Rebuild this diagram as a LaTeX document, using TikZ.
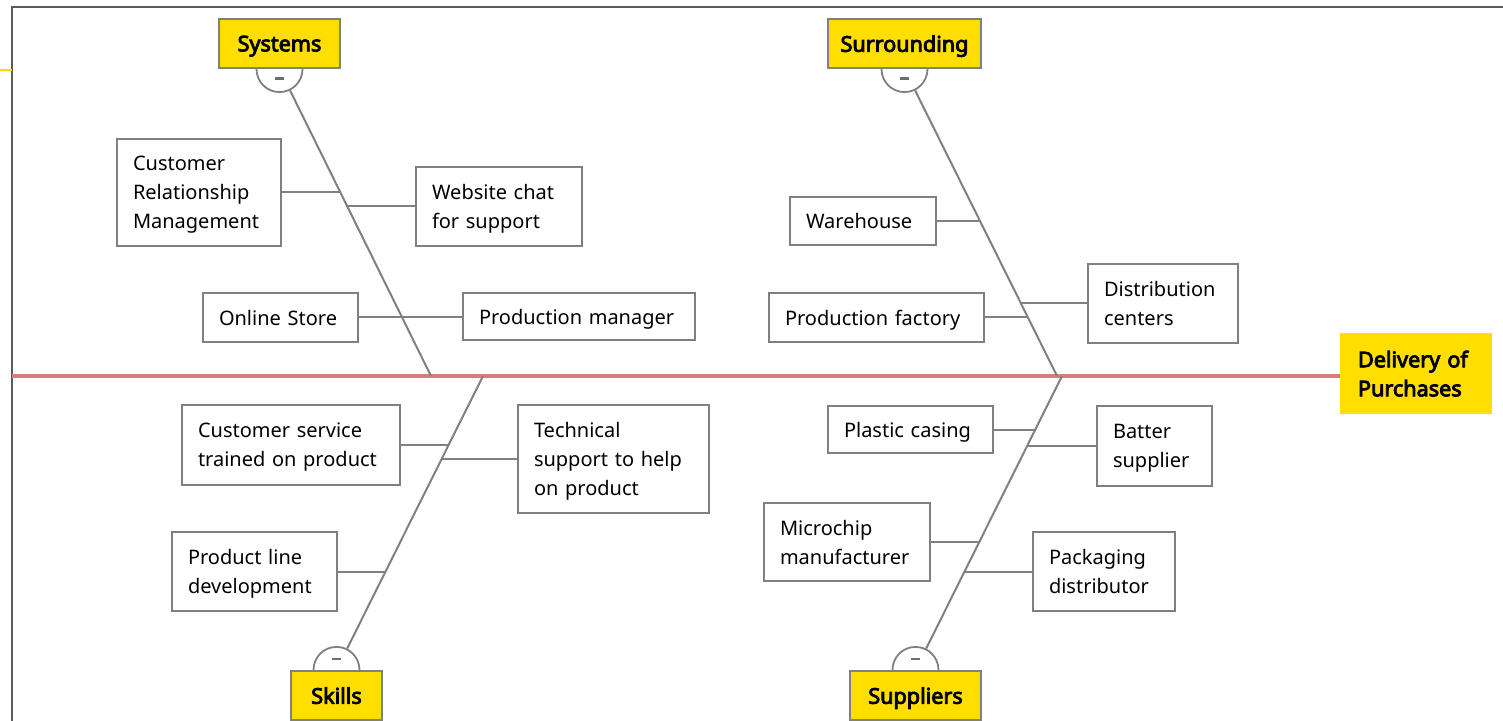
\documentclass[tikz,border=0pt]{standalone}
\usepackage{fontspec}
\setmainfont{Noto Sans}
\newfontfamily\catfont{Noto Sans}[FakeBold=4]
\usetikzlibrary{calc}
\definecolor{catyellow}{RGB}{255,222,0}
\definecolor{boxgray}{RGB}{128,128,128}
\definecolor{spinered}{RGB}{216,124,124}
\definecolor{framegray}{RGB}{90,90,90}
\definecolor{stubyellow}{RGB}{255,215,0}
\begin{document}
\begin{tikzpicture}[x=0.5pt,y=-0.5pt,
  item/.style={draw=boxgray,line width=1pt,fill=white,align=left,inner xsep=8pt,inner ysep=0pt,
    text depth=0pt,font=\fontsize{10}{14.5}\selectfont,text=black},
  twolines/.style={text depth=14.5pt},
  threelines/.style={text depth=29pt},
  cat/.style={draw=boxgray,line width=1.1pt,fill=catyellow,inner sep=0pt,text depth=0pt,
    font=\catfont\fontsize{10.8}{14.5}\selectfont,minimum height=24.5pt},
  effectbox/.style={fill=catyellow,align=left,inner xsep=9pt,inner ysep=0pt,text width=58pt,
    text depth=14.5pt,minimum height=40.5pt,font=\catfont\fontsize{10.8}{14.5}\selectfont},
  knob/.style={circle,draw=boxgray,line width=0.9pt,fill=white,minimum size=23pt,inner sep=0pt},
  bone/.style={draw=boxgray,line width=1pt},
  link/.style={draw=boxgray,line width=1pt},
  minus/.style={draw=boxgray!85!black,line width=1.3pt},
]
\useasboundingbox (0,0) rectangle (1503,721);
% frame
\coordinate (ftl) at (12,7);
\coordinate (ftr) at (1503,7);
\coordinate (fbl) at (12,721);
\draw[framegray,line width=1.1pt] (fbl) -- (ftl) -- (ftr);
\coordinate (stubl) at (0,70);
\draw[stubyellow,line width=1.2pt] (stubl) -- (stubl -| ftl);

% effect
\node[effectbox] (eff) at (1416,373.5) {Delivery of\\Purchases};
\coordinate (sp0) at (12,376);
\draw[spinered,line width=1.6pt] (sp0) -- (sp0 -| eff.west);

% spine points
\coordinate (S2) at (431,376);
\coordinate (U2) at (1057,376);
\coordinate (K1) at (483,376);
\coordinate (P1) at (1062,376);

% category boxes and knobs
\node[cat,minimum width=60.5pt] (sys) at (279.5,43.5) {Systems};
\node[cat,minimum width=76.5pt] (sur) at (904.5,43.5) {Surrounding};
\node[cat,minimum width=45.5pt] (ski) at (336.5,695.5) {Skills};
\node[cat,minimum width=65.5pt] (sup) at (915.5,695.5) {Suppliers};

\node[knob] (sysk) at (sys.south) {};
\node[knob] (surk) at (sur.south) {};
\node[knob] (skik) at (ski.north) {};
\node[knob] (supk) at (sup.north) {};

\draw[bone] (sysk) -- (S2);
\draw[bone] (surk) -- (U2);
\draw[bone] (K1) -- (skik);
\draw[bone] (P1) -- (supk);

% redraw category boxes over knobs
\node[cat,minimum width=60.5pt] at (sys) {Systems};
\node[cat,minimum width=76.5pt] at (sur) {Surrounding};
\node[cat,minimum width=45.5pt] at (ski) {Skills};
\node[cat,minimum width=65.5pt] at (sup) {Suppliers};

\draw[minus] ($(sysk)+(-4.5,9.5)$) -- ++(9,0);
\draw[minus] ($(surk)+(-4.5,9.5)$) -- ++(9,0);
\draw[minus] ($(skik)+(-4.5,-11)$) -- ++(9,0);
\draw[minus] ($(supk)+(-4.5,-11)$) -- ++(9,0);

% items: Systems
\node[item,threelines,text width=66pt,minimum height=53.5pt] (crm) at (199,192.5) {Customer\\Relationship\\Management};
\node[item,twolines,text width=67pt,minimum height=39.5pt] (web) at (499,206.5) {Website chat\\for support};
\node[item,text width=61.5pt,minimum height=24.5pt] (ost) at (280.5,317.5) {Online Store};
\node[item,text width=100pt,minimum height=23.5pt] (pm) at (579,316.5) {Production manager};
% items: Surrounding
\node[item,text width=57pt,minimum height=24pt] (wh) at (863,221) {Warehouse};
\node[item,text width=91.5pt,minimum height=24.5pt] (pf) at (876.5,317.5) {Production factory};
\node[item,twolines,text width=59pt,minimum height=39.5pt] (dc) at (1163,303.5) {Distribution\\centers};
% items: Skills
\node[item,twolines,text width=93pt,minimum height=40pt] (cs) at (291,445) {Customer service\\trained on product};
\node[item,threelines,text width=79.5pt,minimum height=54pt] (ts) at (613.5,459) {Technical\\support to help\\on product};
\node[item,twolines,text width=66.5pt,minimum height=39.5pt] (pl) at (254.5,571.5) {Product line\\development};
% items: Suppliers
\node[item,text width=66.5pt,minimum height=23.5pt] (pc) at (910.5,429.5) {Plastic casing};
\node[item,twolines,text width=41.5pt,minimum height=40pt] (bs) at (1154.5,446) {Batter\\supplier};
\node[item,twolines,text width=67pt,minimum height=39pt] (mc) at (847,542) {Microchip\\manufacturer};
\node[item,twolines,text width=55pt,minimum height=39.5pt] (pd) at (1104,571.5) {Packaging\\distributor};

% junctions on bones
\coordinate (jcrm) at (340,192.5);
\coordinate (jweb) at (345.7,206.5);
\coordinate (jwh) at (980,221);
\coordinate (jpf) at (1028,317.5);
\coordinate (jdc) at (1021,303.5);
\coordinate (jcs) at (448,445);
\coordinate (jts) at (441,459);
\coordinate (jpl) at (384.5,571.5);
\coordinate (jpc) at (1035,429.5);
\coordinate (jbs) at (1027,446);
\coordinate (jmc) at (979,542);
\coordinate (jpd) at (964,571.5);

\draw[link] (crm.east) -- (crm.east -| jcrm);
\draw[link] (web.west) -- (web.west -| jweb);
\draw[link] (ost.east) -- (ost.east -| pm.west);
\draw[link] (wh.east) -- (wh.east -| jwh);
\draw[link] (pf.east) -- (pf.east -| jpf);
\draw[link] (dc.west) -- (dc.west -| jdc);
\draw[link] (cs.east) -- (cs.east -| jcs);
\draw[link] (ts.west) -- (ts.west -| jts);
\draw[link] (pl.east) -- (pl.east -| jpl);
\draw[link] (pc.east) -- (pc.east -| jpc);
\draw[link] (bs.west) -- (bs.west -| jbs);
\draw[link] (mc.east) -- (mc.east -| jmc);
\draw[link] (pd.west) -- (pd.west -| jpd);
\end{tikzpicture}
\end{document}
